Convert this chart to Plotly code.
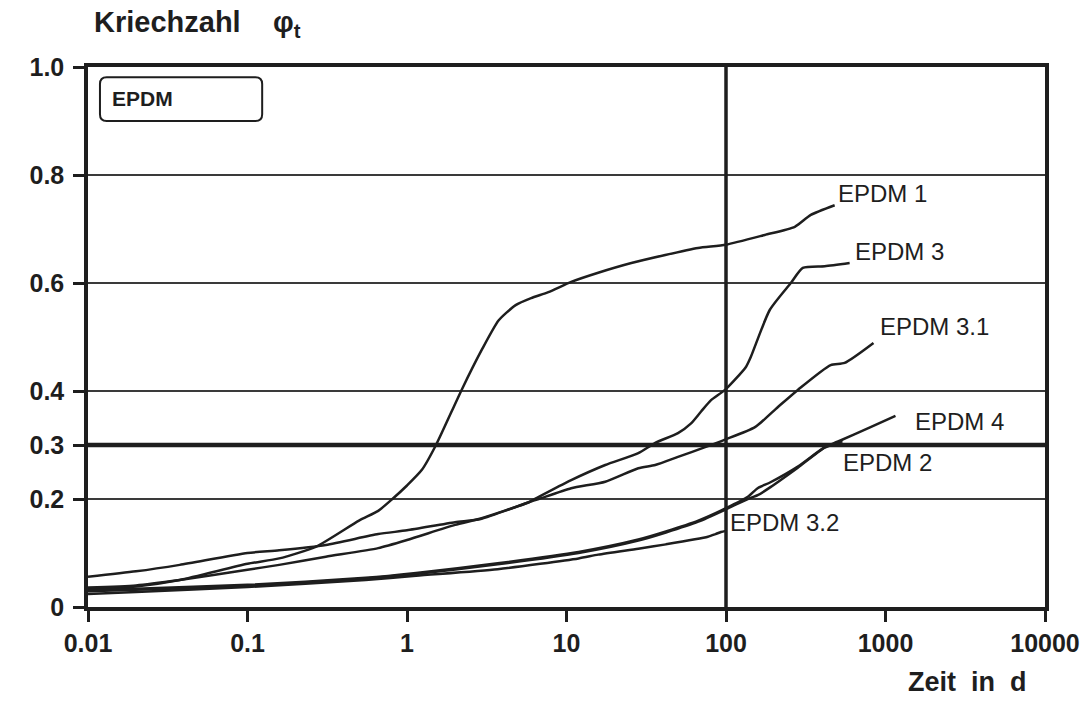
import numpy as np
import plotly.graph_objects as go

# ---------------- data ----------------
epdm1_t = [0.01, 0.02, 0.0376, 0.1, 0.158, 0.27, 0.5, 0.66, 0.81, 1.0, 1.24, 1.52, 2.2, 2.94,
           3.76, 4.8, 6.0, 7.7, 10.7, 15.8, 25.5, 41.6, 66.8, 100, 175, 270, 340, 480]
epdm1_v = [0.033, 0.038, 0.05, 0.08, 0.09, 0.112, 0.16, 0.178, 0.2, 0.225, 0.254, 0.3, 0.402, 0.476,
           0.531, 0.559, 0.572, 0.583, 0.602, 0.619, 0.637, 0.652, 0.665, 0.671, 0.689, 0.704, 0.726, 0.744]

epdm3_t = [0.01, 0.02, 0.0376, 0.1, 0.158, 0.31, 0.66, 1.0, 2.0, 2.9, 5.8, 6.7, 10.7, 17.5, 28.2,
           36, 50, 60.4, 69.8, 80.6, 98.6, 133, 143, 188, 255, 303, 416, 596]
epdm3_v = [0.036, 0.04, 0.05, 0.069, 0.078, 0.093, 0.109, 0.124, 0.152, 0.164, 0.194, 0.204, 0.235,
           0.263, 0.285, 0.304, 0.322, 0.34, 0.362, 0.383, 0.402, 0.444, 0.463, 0.55, 0.6, 0.628, 0.631, 0.637]

epdm31_t = [0.01, 0.02, 0.0376, 0.1, 0.158, 0.31, 0.66, 1.0, 2.0, 2.9, 5.8, 6.7, 10.7, 17.5, 28.2,
            36, 50, 74, 98.6, 152, 211, 282, 453, 554, 841]
epdm31_v = [0.056, 0.066, 0.078, 0.1, 0.105, 0.115, 0.135, 0.142, 0.157, 0.163, 0.194, 0.2, 0.22,
            0.232, 0.257, 0.263, 0.278, 0.296, 0.31, 0.333, 0.37, 0.402, 0.448, 0.452, 0.489]

epdm4_t = [0.01, 0.02, 0.1, 0.55, 1.14, 3.7, 11.9, 28.2, 42, 67, 100, 137, 158, 190, 282, 416,
           500, 806, 1155]
epdm4_v = [0.031, 0.034, 0.041, 0.054, 0.063, 0.081, 0.102, 0.125, 0.14, 0.16, 0.183, 0.204, 0.22,
           0.231, 0.26, 0.296, 0.306, 0.333, 0.354]

epdm2_t = [0.01, 0.02, 0.1, 0.55, 1.14, 3.7, 11.9, 28.2, 42, 67, 100, 137, 158, 190, 282, 416, 537]
epdm2_v = [0.029, 0.032, 0.039, 0.053, 0.061, 0.079, 0.1, 0.123, 0.138, 0.158, 0.181, 0.2, 0.207,
           0.222, 0.258, 0.295, 0.307]

epdm32_t = [0.01, 0.02, 0.1, 0.55, 1.14, 3.7, 11.9, 15.8, 28.2, 42, 77, 86, 93, 100]
epdm32_v = [0.024, 0.028, 0.037, 0.05, 0.058, 0.07, 0.09, 0.097, 0.108, 0.116, 0.13, 0.135, 0.139, 0.141]

series_names = ["EPDM 1", "EPDM 3", "EPDM 3.1", "EPDM 4", "EPDM 2", "EPDM 3.2"]
series_t = [epdm1_t, epdm3_t, epdm31_t, epdm4_t, epdm2_t, epdm32_t]
series_v = [epdm1_v, epdm3_v, epdm31_v, epdm4_v, epdm2_v, epdm32_v]

x_tickvals = [0.01, 0.1, 1, 10, 100, 1000, 10000]
x_ticktext = ["0.01", "0.1", "1", "10", "100", "1000", "10000"]
y_tickvals = [0, 0.2, 0.3, 0.4, 0.6, 0.8, 1.0]
y_ticktext = ["0", "0.2", "0.3", "0.4", "0.6", "0.8", "1.0"]

ref_y = [0.3]     # thick horizontal reference line
ref_x = [100]     # thick vertical reference line

# label placement (time, value) for the curve labels
label_pos = {
    "EPDM 1": (487, 0.766),
    "EPDM 3": (622, 0.659),
    "EPDM 3.1": (891, 0.519),
    "EPDM 4": (1496, 0.343),
    "EPDM 2": (523, 0.267),
    "EPDM 3.2": (103, 0.156),
}

INK = "#1e1e1e"
FONT = "Liberation Sans"

fig = go.Figure()
for name, t, v in zip(series_names, series_t, series_v):
    fig.add_trace(go.Scatter(x=t, y=v, mode="lines", name=name,
                             line=dict(color=INK, width=2.5, shape="spline", smoothing=0.6),
                             showlegend=False, hoverinfo="x+y+name"))

shapes = []
for yv in ref_y:
    shapes.append(dict(type="line", xref="paper", yref="y", x0=0, x1=1, y0=yv, y1=yv,
                       line=dict(color=INK, width=4.5)))
for xv in ref_x:
    shapes.append(dict(type="line", xref="x", yref="paper", x0=xv, x1=xv, y0=0, y1=1,
                       line=dict(color=INK, width=3.5)))

# rounded box around the "EPDM" tag (paper coords)
bx0, bx1, by0, by1 = 0.0125, 0.182, 0.9, 0.981
rx, ry = 0.007, 0.0125
path = (f"M {bx0+rx},{by0} L {bx1-rx},{by0} Q {bx1},{by0} {bx1},{by0+ry} "
        f"L {bx1},{by1-ry} Q {bx1},{by1} {bx1-rx},{by1} L {bx0+rx},{by1} "
        f"Q {bx0},{by1} {bx0},{by1-ry} L {bx0},{by0+ry} Q {bx0},{by0} {bx0+rx},{by0} Z")
shapes.append(dict(type="path", xref="paper", yref="paper", path=path,
                   line=dict(color=INK, width=2)))

annotations = []
for name in series_names:
    lt, lv = label_pos[name]
    annotations.append(dict(x=np.log10(lt), y=lv, xref="x", yref="y", text=name,
                            showarrow=False, xanchor="left", yanchor="middle",
                            font=dict(family=FONT, size=24, color=INK)))
annotations.append(dict(x=0.023, y=0.941, xref="paper", yref="paper", text="<b>EPDM</b>",
                        showarrow=False, xanchor="left", yanchor="middle",
                        font=dict(family=FONT, size=21, color=INK)))
annotations.append(dict(x=0.004, y=1.08, xref="paper", yref="paper",
                        text="<b>Kriechzahl    φ<sub>t</sub></b>",
                        showarrow=False, xanchor="left", yanchor="middle",
                        font=dict(family=FONT, size=29, color=INK)))
annotations.append(dict(x=0.983, y=-0.139, xref="paper", yref="paper",
                        text="<b>Zeit  in  d</b>",
                        showarrow=False, xanchor="right", yanchor="middle",
                        font=dict(family=FONT, size=27, color=INK)))

fig.update_layout(
    width=1092, height=723,
    margin=dict(l=88, r=44, t=67, b=116),
    paper_bgcolor="white", plot_bgcolor="white",
    shapes=shapes, annotations=annotations,
    xaxis=dict(type="log", range=[-2, 4], tickvals=x_tickvals, ticktext=x_ticktext,
               showgrid=False, zeroline=False,
               showline=True, linecolor=INK, linewidth=3.5, mirror=True,
               ticks="outside", ticklen=11, tickwidth=3, tickcolor=INK,
               tickfont=dict(family=FONT, size=25, color=INK, weight="bold")),
    yaxis=dict(range=[0, 1.0], tickvals=y_tickvals, ticktext=y_ticktext,
               showgrid=True, gridcolor="#3a3a3a", gridwidth=1.5, zeroline=False,
               showline=True, linecolor=INK, linewidth=3.5, mirror=True,
               ticks="outside", ticklen=11, tickwidth=3, tickcolor=INK,
               ticklabelstandoff=4,
               tickfont=dict(family=FONT, size=25, color=INK, weight="bold")),
)

fig.write_html("out.html")
